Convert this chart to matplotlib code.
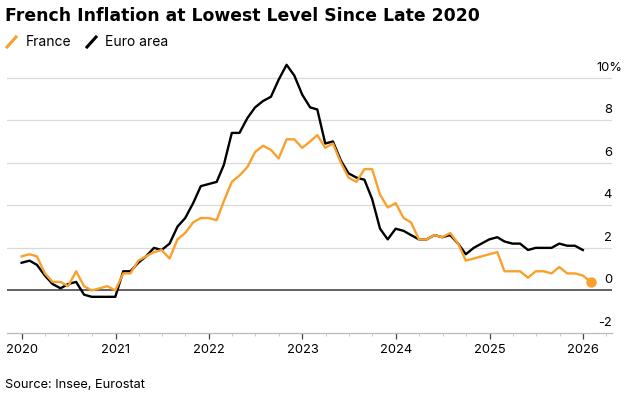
import matplotlib
matplotlib.use("Agg")
import matplotlib.pyplot as plt
import matplotlib.dates as mdates
import matplotlib.transforms as mtransforms
from matplotlib.lines import Line2D
import pandas as pd

plt.rcParams['font.family'] = ['Inter', 'Liberation Sans', 'DejaVu Sans']

# monthly y/y HICP, Dec 2019 onwards (plotted at month end)
france = [1.6, 1.7, 1.6, 0.8, 0.4, 0.4, 0.2, 0.9, 0.2, 0.0, 0.1, 0.2, 0.0,
          0.8, 0.8, 1.4, 1.6, 1.8, 1.9, 1.5, 2.4, 2.7, 3.2, 3.4, 3.4,
          3.3, 4.2, 5.1, 5.4, 5.8, 6.5, 6.8, 6.6, 6.2, 7.1, 7.1, 6.7,
          7.0, 7.3, 6.7, 6.9, 6.0, 5.3, 5.1, 5.7, 5.7, 4.5, 3.9, 4.1,
          3.4, 3.2, 2.4, 2.4, 2.6, 2.5, 2.7, 2.2, 1.4, 1.5, 1.6, 1.7,
          1.8, 0.9, 0.9, 0.9, 0.6, 0.9, 0.9, 0.8, 1.1, 0.8, 0.8, 0.7,
          0.4]
euro_area = [1.3, 1.4, 1.2, 0.7, 0.3, 0.1, 0.3, 0.4, -0.2, -0.3, -0.3, -0.3, -0.3,
             0.9, 0.9, 1.3, 1.6, 2.0, 1.9, 2.2, 3.0, 3.4, 4.1, 4.9, 5.0,
             5.1, 5.9, 7.4, 7.4, 8.1, 8.6, 8.9, 9.1, 9.9, 10.6, 10.1, 9.2,
             8.6, 8.5, 6.9, 7.0, 6.1, 5.5, 5.3, 5.2, 4.3, 2.9, 2.4, 2.9,
             2.8, 2.6, 2.4, 2.4, 2.6, 2.5, 2.6, 2.2, 1.7, 2.0, 2.2, 2.4,
             2.5, 2.3, 2.2, 2.2, 1.9, 2.0, 2.0, 2.0, 2.2, 2.1, 2.1, 1.9]
y_ticks = [-2, 0, 2, 4, 6, 8, 10]
y_labels = ["-2", "0", "2", "4", "6", "8", "10%"]

orange = "#f9a12c"
dates_fr = pd.date_range("2019-12-31", periods=len(france), freq="ME")
dates_ea = pd.date_range("2019-12-31", periods=len(euro_area), freq="ME")

fig = plt.figure(figsize=(6.35, 3.99), dpi=100)
ax = fig.add_axes([7 / 635, 66 / 399, 605 / 635, 276.7 / 399])

for y in y_ticks:
    if y == 0:
        ax.axhline(0, color="#555555", lw=1.3, zorder=1)
    elif y > -2:
        ax.axhline(y, color="#d9d9d9", lw=0.9, zorder=0)

ax.plot(dates_ea, euro_area, color="black", lw=1.7, zorder=3)
ax.plot(dates_fr, france, color=orange, lw=1.7, zorder=4)
ax.plot(dates_fr[-1:], france[-1:], "o", color=orange, ms=6.5, zorder=5)

ax.set_ylim(-2, 11)
ax.set_xlim(pd.Timestamp("2019-11-04"), pd.Timestamp("2026-04-24"))

for s in ["top", "right", "left"]:
    ax.spines[s].set_visible(False)
ax.spines["bottom"].set_color("#bbbbbb")
ax.spines["bottom"].set_linewidth(0.9)

ax.set_yticks([])
ax.xaxis.set_major_locator(mdates.YearLocator())
ax.xaxis.set_major_formatter(mdates.DateFormatter("%Y"))
ax.xaxis.set_minor_locator(mdates.MonthLocator(bymonth=[4, 7, 10]))
ax.tick_params(axis="x", which="major", length=4, width=0.9, color="#444444",
               labelsize=9.3, pad=4, labelcolor="black")
ax.tick_params(axis="x", which="minor", length=2.5, width=0.8, color="#cccccc")

# right-hand labels sit just above their gridlines; the % hangs past the edge
trans = mtransforms.offset_copy(ax.get_yaxis_transform(), fig=fig, y=5, units="points")
trans_pct = mtransforms.offset_copy(ax.get_yaxis_transform(), fig=fig, x=7.8, y=5, units="points")
for y, lab in zip(y_ticks, y_labels):
    tr = trans_pct if lab.endswith("%") else trans
    ax.text(1.0, y, lab, transform=tr, ha="right", va="baseline", fontsize=9.3)

fig.text(5 / 635, 1 - 16 / 399, "French Inflation at Lowest Level Since Late 2020",
         fontsize=12.4, fontweight="bold", ha="left", va="center",
         family=["DejaVu Sans"])

# legend
fig.add_artist(Line2D([7 / 635, 16 / 635], [1 - 47 / 399, 1 - 37 / 399],
                      transform=fig.transFigure, color=orange, lw=2.2))
fig.text(26 / 635, 1 - 42 / 399, "France", fontsize=10, ha="left", va="center")
fig.add_artist(Line2D([87 / 635, 96 / 635], [1 - 47 / 399, 1 - 37 / 399],
                      transform=fig.transFigure, color="black", lw=2.2))
fig.text(105 / 635, 1 - 42 / 399, "Euro area", fontsize=10, ha="left", va="center")

fig.text(5 / 635, 1 - 385 / 399, "Source: Insee, Eurostat", fontsize=9.2, ha="left", va="center")

fig.savefig("out.png", dpi=100)
